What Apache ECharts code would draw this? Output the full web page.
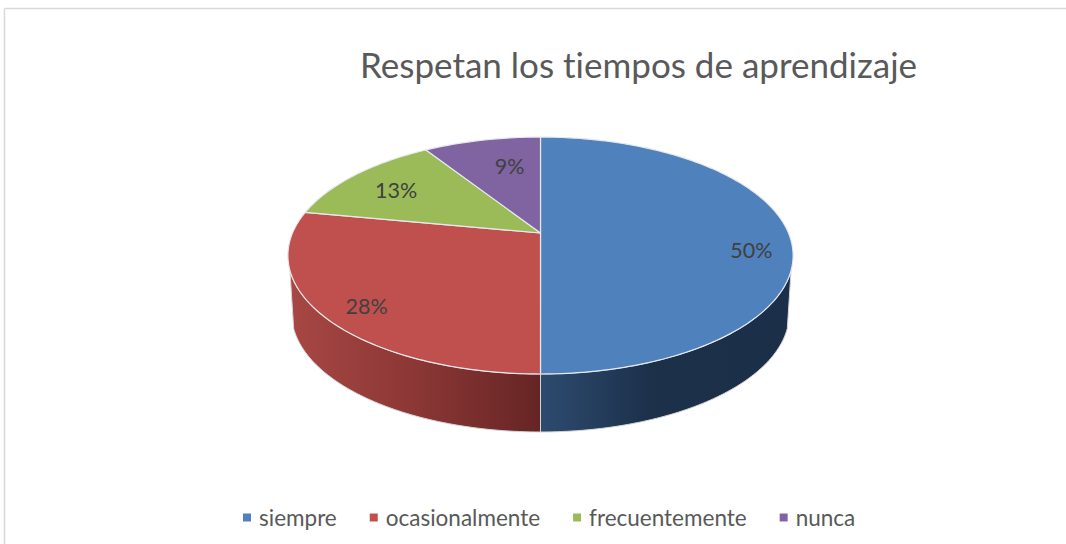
<!DOCTYPE html>
<html><head><meta charset="utf-8">
<style>html,body{margin:0;padding:0;background:#fff}#c{width:1066px;height:544px}#c text{font-variant-ligatures:none}</style>
<script src="https://cdn.jsdelivr.net/npm/echarts@6/dist/echarts.min.js"></script>
</head><body><div id="c"></div>
<script>
const categories = ['siempre', 'ocasionalmente', 'frecuentemente', 'nunca'];
const values = [50, 28, 13, 9];
const labels = ['50%', '28%', '13%', '9%'];
const topColors = ['#4f81bd', '#c0504d', '#9bbb59', '#8064a2'];

// Layout of the tilted disc (perspective projection of a circle)
const CX = 540.5, CY = 233, RX = 248, RY = 114.2, K = -0.19, DEPTH = 58, BOTTOM_SCALE = 0.985;
const labelRadius = [0.85, 0.82, 0.75, 0.7];
const labelShift = [[0, 17], [0, 7], [-2, 2], [12, 1]];
const wallRange = [[0.3, 0.5], [0.5, 0.7]];
const wallFill = [
  { x: 541, x2: 787, stops: [[0, '#2d4b6f'], [0.45, '#1c304a'], [1, '#1b2f49']] },
  { x: 290, x2: 541, stops: [[0, '#a84744'], [0.5, '#8b3735'], [1, '#652524']] }
];

const total = values.reduce((a, b) => a + b, 0);
function project(frac, r) {
  const t = frac * 2 * Math.PI, u = r * Math.sin(t), v = -r * Math.cos(t), w = 1 + K * v;
  return [CX + RX * u / w, CY + RY * v / w];
}
function arc(from, to) {
  const steps = Math.max(8, Math.round((to - from) * 360));
  const pts = [];
  for (let i = 0; i <= steps; i++) pts.push(project(from + (to - from) * i / steps, 1));
  return pts;
}
function renderSlice(idx) {
  return function (params, api) {
    const before = values.slice(0, idx).reduce((a, b) => a + b, 0);
    const start = before / total, end = (before + api.value(0)) / total;
    const children = [];
    const fill = wallFill[idx];
    if (fill) {
      const rim = arc(wallRange[idx][0], wallRange[idx][1]);
      const low = rim.map(p => [CX + (p[0] - CX) * BOTTOM_SCALE, p[1] + DEPTH]).reverse();
      children.push({
        type: 'polygon', shape: { points: rim.concat(low) },
        style: {
          fill: new echarts.graphic.LinearGradient(fill.x, 0, fill.x2, 0,
            fill.stops.map(s => ({ offset: s[0], color: s[1] })), true),
          stroke: '#d4d6d9', lineWidth: 1
        }
      });
    }
    children.push({
      type: 'polygon', shape: { points: [[CX, CY]].concat(arc(start, end)) },
      style: { fill: topColors[idx], stroke: '#e6e9ee', lineWidth: 1.2, lineJoin: 'round' }
    });
    const mid = project((start + end) / 2, labelRadius[idx]);
    children.push({
      type: 'text', z2: 10,
      style: {
        x: mid[0] + labelShift[idx][0], y: mid[1] + labelShift[idx][1], text: labels[idx],
        fill: '#404040', font: '21.5px Lato', align: 'center', verticalAlign: 'middle'
      }
    });
    return { type: 'group', children };
  };
}

const chart = echarts.init(document.getElementById('c'), null, { renderer: 'svg' });
chart.setOption({
  backgroundColor: '#fff',
  animation: false,
  color: topColors,
  title: {
    text: 'Respetan los tiempos de aprendizaje', left: 355, top: 41,
    textStyle: { fontFamily: 'Lato', fontWeight: 'normal', fontSize: 35, color: '#595959' }
  },
  legend: {
    left: 238, top: 501, icon: 'rect', itemWidth: 8, itemHeight: 8, itemGap: 33,
    data: categories,
    textStyle: { fontFamily: 'Lato', fontSize: 22.5, color: '#595959', padding: [0, 0, 0, 3] }
  },
  graphic: [
    { type: 'line', silent: true, shape: { x1: 4.5, y1: 8.5, x2: 1066, y2: 8.5 }, style: { stroke: '#d9d9d9', lineWidth: 1.5 } },
    { type: 'line', silent: true, shape: { x1: 4.5, y1: 8.5, x2: 4.5, y2: 544 }, style: { stroke: '#d9d9d9', lineWidth: 1.5 } }
  ],
  series: categories.map((name, i) => ({
    type: 'custom', name, coordinateSystem: 'none', silent: true,
    data: [[values[i]]], renderItem: renderSlice(i)
  }))
});
</script></body></html>
